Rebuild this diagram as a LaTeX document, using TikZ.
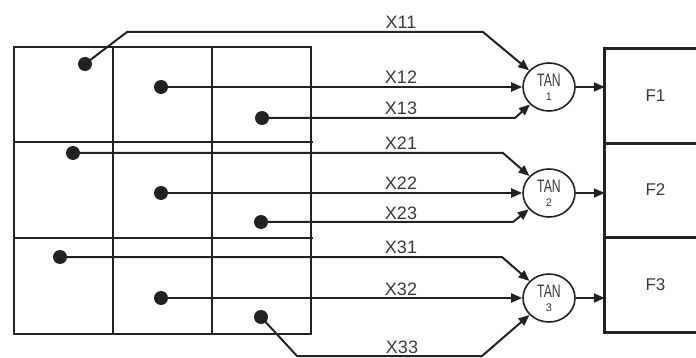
\documentclass[tikz,border=0pt]{standalone}
\usepackage{fontspec}
\setmainfont{Liberation Sans}
\newfontfamily\narrowfont[FakeStretch=0.68]{Liberation Sans}
\usetikzlibrary{arrows.meta,shapes.geometric}
\definecolor{ink}{HTML}{222222}
\definecolor{txt}{HTML}{3A3A3A}
\begin{document}
\begin{tikzpicture}[x=1pt,y=-1pt,
 grid/.style={line width=2.8pt, draw=ink, line cap=rect},
 wire/.style={line width=2pt, draw=ink, line join=round},
 arr/.style={wire, -{Triangle[length=11pt,width=9pt]}},
 dot/.style={circle, fill=ink, inner sep=0pt, minimum size=14pt},
 tan/.style={ellipse, draw=ink, line width=1.6pt, minimum width=52pt, minimum height=48pt, inner sep=0pt, font=\narrowfont\fontsize{18}{14}\selectfont, align=center, text=txt},
 sub/.style={font=\rmfamily\fontsize{11}{11}\selectfont},
 xl/.style={font=\fontsize{18}{18}\selectfont, text=txt, inner sep=0pt, anchor=base},
 fb/.style={minimum width=91pt, minimum height=94pt, inner sep=0pt, font=\fontsize{17}{17}\selectfont, text=txt},
]
\useasboundingbox (0,0) rectangle (696,358);

% grid of cells
\draw[grid] (14,47) rectangle (311,334);
\draw[grid] (113,47) -- (113,334);
\draw[grid] (212,47) -- (212,334);
\draw[grid] (14,142) -- (312,142);
\draw[grid] (14,238) -- (312,238);

% dots
\node[dot] (d11) at (85,64) {};
\node[dot] (d12) at (161,87) {};
\node[dot] (d13) at (262,118) {};
\node[dot] (d21) at (73,153) {};
\node[dot] (d22) at (161,193) {};
\node[dot] (d23) at (261,222) {};
\node[dot] (d31) at (60,257) {};
\node[dot] (d32) at (161,298) {};
\node[dot] (d33) at (261,317) {};

% TAN nodes
\node[tan] (T1) at (549,87) {TAN\\[0pt]{\rmfamily\fontsize{11}{11}\selectfont 1}};
\node[tan] (T2) at (549,193) {TAN\\[0pt]{\rmfamily\fontsize{11}{11}\selectfont 2}};
\node[tan] (T3) at (549,298) {TAN\\[0pt]{\rmfamily\fontsize{11}{11}\selectfont 3}};

% F boxes
\node[fb] (F1) at (650.5,96) {\hspace{10pt}F1};
\node[fb] (F2) at (650.5,190) {\hspace{10pt}\raisebox{-8pt}{F2}};
\node[fb] (F3) at (650.5,285) {\hspace{10pt}\raisebox{-8pt}{F3}};
\draw[grid] (F1.north east) -- (F1.north west) -- (F3.south west) -- (F3.south east);
\draw[grid] (F1.south west) -- (F1.south east);
\draw[grid] (F2.south west) -- (F2.south east);

% connectors
\coordinate (a11) at (127,32);
\coordinate (b11) at (483,32);
\draw[arr] (d11.center) -- (a11) -- (b11) -- (T1);
\draw[arr] (d12.center) -- (T1);
\coordinate (b13) at (515,118);
\draw[arr] (d13.center) -- (b13) -- (T1);
\coordinate (b21) at (503,153);
\draw[arr] (d21.center) -- (b21) -- (T2);
\draw[arr] (d22.center) -- (T2);
\coordinate (b23) at (513,222);
\draw[arr] (d23.center) -- (b23) -- (T2);
\coordinate (b31) at (502,257);
\draw[arr] (d31.center) -- (b31) -- (T3);
\draw[arr] (d32.center) -- (T3);
\coordinate (a33) at (297,356);
\coordinate (b33) at (482,356);
\draw[arr] (d33.center) -- (a33) -- (b33) -- (T3);

\draw[arr] (T1.east) -- (T1.east -| F1.west);
\draw[arr] (T2.east) -- (T2.east -| F2.west);
\draw[arr] (T3.east) -- (T3.east -| F3.west);

% labels
\node[xl] at (401,29) {X11};
\node[xl] at (401,84) {X12};
\node[xl] at (401,115) {X13};
\node[xl] at (401,150) {X21};
\node[xl] at (401,190) {X22};
\node[xl] at (401,219) {X23};
\node[xl] at (401,254) {X31};
\node[xl] at (401,295) {X32};
\node[xl] at (402,353) {X33};
\end{tikzpicture}
\end{document}
